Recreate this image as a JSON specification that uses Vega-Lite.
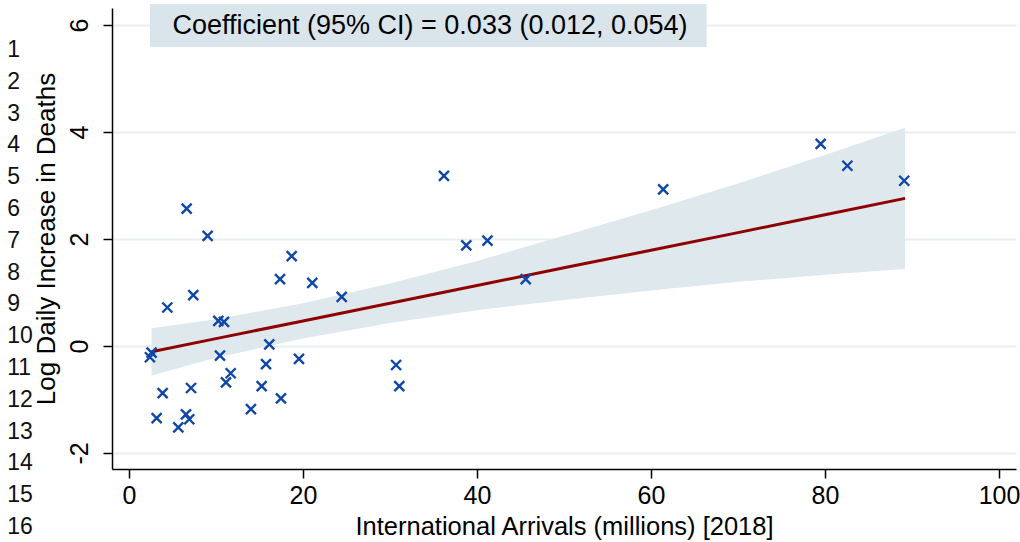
{
  "$schema": "https://vega.github.io/schema/vega-lite/v6.json",
  "width": 904,
  "height": 461,
  "autosize": {"type": "none"},
  "padding": {"left": 112, "top": 8, "right": 4, "bottom": 73},
  "background": "white",
  "config": {"view": {"stroke": null}, "font": "Liberation Sans"},
  "datasets": {
    "points": [
      {"x": 6.63, "y": 2.57}, {"x": 9.04, "y": 2.06}, {"x": 18.7, "y": 1.68}, {"x": 17.36, "y": 1.25},
      {"x": 21.07, "y": 1.18}, {"x": 7.39, "y": 0.95}, {"x": 4.41, "y": 0.72}, {"x": 10.27, "y": 0.47},
      {"x": 10.92, "y": 0.45}, {"x": 2.6, "y": -0.125}, {"x": 2.41, "y": -0.21}, {"x": 16.13, "y": 0.03},
      {"x": 10.46, "y": -0.18}, {"x": 19.54, "y": -0.24}, {"x": 15.75, "y": -0.34}, {"x": 11.69, "y": -0.51},
      {"x": 11.15, "y": -0.68}, {"x": 15.25, "y": -0.75}, {"x": 7.13, "y": -0.785}, {"x": 3.87, "y": -0.88},
      {"x": 17.47, "y": -0.98}, {"x": 14.02, "y": -1.18}, {"x": 6.55, "y": -1.28}, {"x": 3.18, "y": -1.35},
      {"x": 6.93, "y": -1.37}, {"x": 5.67, "y": -1.52}, {"x": 36.2, "y": 3.18}, {"x": 41.2, "y": 1.97},
      {"x": 38.77, "y": 1.88}, {"x": 24.45, "y": 0.92}, {"x": 45.6, "y": 1.25}, {"x": 30.7, "y": -0.355},
      {"x": 31.07, "y": -0.75}, {"x": 79.5, "y": 3.78}, {"x": 82.57, "y": 3.37}, {"x": 89.1, "y": 3.09},
      {"x": 61.4, "y": 2.93}
    ],
    "fit": [
      {"x": 2.6, "y": -0.107, "lo": -0.55, "hi": 0.33},
      {"x": 10, "y": 0.138, "lo": -0.22, "hi": 0.5},
      {"x": 20, "y": 0.469, "lo": 0.14, "hi": 0.8},
      {"x": 30, "y": 0.8, "lo": 0.43, "hi": 1.17},
      {"x": 40, "y": 1.13, "lo": 0.67, "hi": 1.59},
      {"x": 50, "y": 1.462, "lo": 0.86, "hi": 2.06},
      {"x": 60, "y": 1.79, "lo": 1.04, "hi": 2.54},
      {"x": 70, "y": 2.12, "lo": 1.2, "hi": 3.04},
      {"x": 80, "y": 2.455, "lo": 1.33, "hi": 3.57},
      {"x": 89.2, "y": 2.76, "lo": 1.44, "hi": 4.08}
    ],
    "box": [
      {"x": 2.42, "x2": 66.4, "y": 5.591, "y2": 6.395}
    ],
    "boxtext": [
      {"x": 34.6, "y": 5.99, "label": "Coefficient (95% CI) = 0.033 (0.012, 0.054)"}
    ],
    "linenos": [
      {"x": -14.0, "y": 5.533, "n": "1"}, {"x": -14.0, "y": 4.938, "n": "2"}, {"x": -14.0, "y": 4.344, "n": "3"},
      {"x": -14.0, "y": 3.75, "n": "4"}, {"x": -14.0, "y": 3.155, "n": "5"}, {"x": -14.0, "y": 2.561, "n": "6"},
      {"x": -14.0, "y": 1.966, "n": "7"}, {"x": -14.0, "y": 1.372, "n": "8"}, {"x": -14.0, "y": 0.778, "n": "9"},
      {"x": -14.0, "y": 0.183, "n": "10"}, {"x": -14.0, "y": -0.411, "n": "11"}, {"x": -14.0, "y": -1.006, "n": "12"},
      {"x": -14.0, "y": -1.6, "n": "13"}, {"x": -14.0, "y": -2.194, "n": "14"}, {"x": -14.0, "y": -2.789, "n": "15"},
      {"x": -14.0, "y": -3.383, "n": "16"}
    ]
  },
  "encoding": {
    "x": {
      "field": "x", "type": "quantitative",
      "scale": {"domain": [-1.95, 101.95], "nice": false, "zero": false},
      "axis": {
        "values": [0, 20, 40, 60, 80, 100],
        "title": "International Arrivals (millions) [2018]",
        "grid": false,
        "domainColor": "black", "domainWidth": 1.5,
        "tickColor": "black", "tickWidth": 1.5, "tickSize": 9,
        "labelFontSize": 25, "labelColor": "black", "labelPadding": 5, "labelFlush": false,
        "titleFontSize": 25.5, "titleFontWeight": "normal", "titleColor": "black", "titlePadding": 6
      }
    },
    "y": {
      "field": "y", "type": "quantitative",
      "scale": {"domain": [-2.3, 6.32], "nice": false, "zero": false},
      "axis": {
        "values": [-2, 0, 2, 4, 6],
        "labelExpr": "'' + datum.value",
        "title": "Log Daily Increase in Deaths",
        "grid": true, "gridColor": "#e8eff2", "gridWidth": 2,
        "domainColor": "black", "domainWidth": 1.5,
        "tickColor": "black", "tickWidth": 1.5, "tickSize": 9,
        "labelAngle": -90, "labelAlign": "center", "labelBaseline": "bottom",
        "labelFontSize": 25, "labelColor": "black", "labelPadding": 11, "labelFlush": false,
        "titleFontSize": 26, "titleFontWeight": "normal", "titleColor": "black", "titlePadding": 8
      }
    }
  },
  "layer": [
    {
      "data": {"name": "fit"},
      "mark": {"type": "area", "color": "#dfe8ed", "opacity": 1},
      "encoding": {
        "y": {"field": "lo", "type": "quantitative"},
        "y2": {"field": "hi"}
      }
    },
    {
      "data": {"name": "fit"},
      "mark": {"type": "line", "color": "#8e0000", "strokeWidth": 3}
    },
    {
      "data": {"name": "points"},
      "mark": {"type": "point", "shape": "M-1,-1L1,1M-1,1L1,-1", "filled": false, "stroke": "#0f47a8", "strokeWidth": 2.4, "size": 100, "opacity": 1}
    },
    {
      "data": {"name": "box"},
      "mark": {"type": "rect", "color": "#dae5eb", "clip": false},
      "encoding": {
        "x2": {"field": "x2"},
        "y2": {"field": "y2"}
      }
    },
    {
      "data": {"name": "boxtext"},
      "mark": {"type": "text", "fontSize": 27, "color": "black", "align": "center", "baseline": "middle", "clip": false},
      "encoding": {
        "text": {"field": "label"}
      }
    },
    {
      "data": {"name": "linenos"},
      "mark": {"type": "text", "fontSize": 23, "color": "#111111", "align": "left", "baseline": "middle", "clip": false},
      "encoding": {
        "text": {"field": "n"}
      }
    }
  ]
}
